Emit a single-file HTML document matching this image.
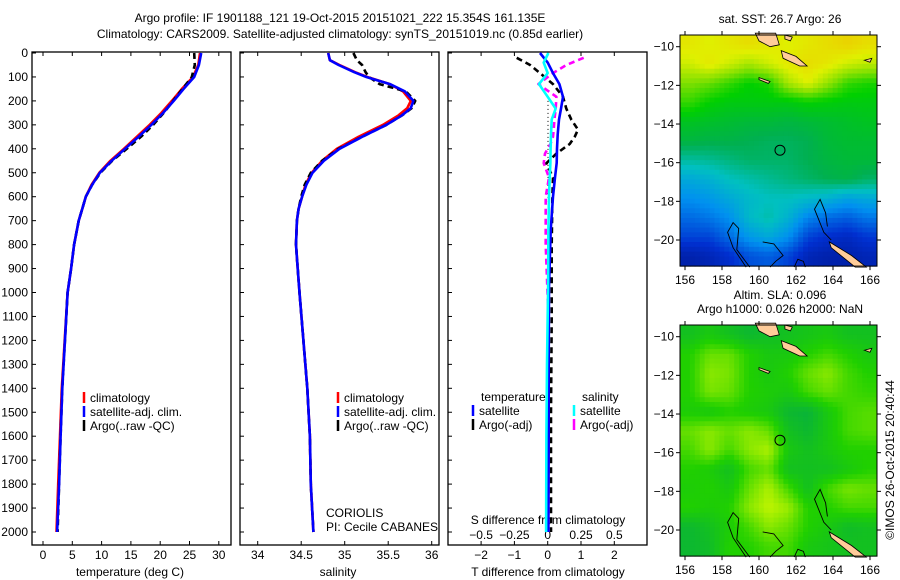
<!DOCTYPE html>
<html><head><meta charset="utf-8">
<style>
body{margin:0;background:#fff;}
svg{display:block;font-family:"Liberation Sans",Arial,sans-serif;}
text{font-size:12px;fill:#000;}
</style></head>
<body>
<svg id="chart" width="900" height="580" viewBox="0 0 900 580" xmlns="http://www.w3.org/2000/svg">
<rect width="900" height="580" fill="#fff"/>
<text x="340" y="22" text-anchor="middle">Argo profile: IF 1901188_121 19-Oct-2015 20151021_222 15.354S 161.135E</text>
<text x="340" y="38" text-anchor="middle">Climatology: CARS2009. Satellite-adjusted climatology: synTS_20151019.nc (0.85d earlier)</text>
<g id="g"></g>
</svg>
<script>
// ---------- data ----------
const depthT = [0,50,100,150,200,250,300,350,400,450,500,550,600,650,700,800,900,1000,1400,1600,1800,2000];
const tempClim = [26.8,26.5,25.6,23.7,22.0,20.2,18.2,16.0,13.8,11.5,9.6,8.3,7.3,6.7,6.1,5.3,4.8,4.2,3.2,2.9,2.6,2.3];
const tempSat  = [27.0,26.6,25.8,24.0,22.3,20.5,18.5,16.3,14.0,11.7,9.7,8.4,7.3,6.7,6.1,5.3,4.8,4.2,3.3,3.0,2.75,2.4];
const tempArgo = [25.8,25.9,25.4,23.8,22.2,20.6,18.8,16.7,14.3,11.8,9.8,8.4,7.3,6.7,6.1,5.3,4.8,4.2,3.3,3.0,2.75,2.5];
const depthS = [0,30,50,80,100,130,160,200,230,260,300,350,400,450,500,550,600,650,700,800,900,1000,1400,1600,1800,2000];
const salClim = [34.81,34.83,34.94,35.12,35.26,35.52,35.67,35.76,35.72,35.62,35.44,35.16,34.91,34.74,34.62,34.55,34.51,34.47,34.45,34.44,34.46,34.48,34.57,34.60,34.61,34.64];
const salSat  = [34.81,34.83,34.93,35.11,35.25,35.52,35.69,35.79,35.76,35.66,35.48,35.20,34.94,34.76,34.63,34.56,34.51,34.47,34.45,34.44,34.46,34.48,34.57,34.60,34.61,34.64];
const salArgo = [35.10,35.14,35.20,35.24,35.28,35.40,35.70,35.81,35.77,35.66,35.48,35.20,34.93,34.74,34.61,34.54,34.50,34.47,34.45,34.44,34.46,34.48,34.57,34.60,34.61,34.64];
const depthD = [0,40,84,130,183,232,278,340,400,459,520,600,740,977,1300,1600,2000];
const dTsat  = [-0.23,0.0,0.16,0.35,0.46,0.40,0.34,0.30,0.28,0.27,0.22,0.16,0.09,0.04,0.03,0.03,0.02];
const dSsat  = [0.005,-0.03,0.0,-0.065,0.0,0.06,0.03,0.025,0.022,0.02,0.015,0.01,0.005,0.003,-0.005,-0.01,-0.012];
const depthA = [20,50,84,130,183,232,278,320,350,380,420,460,520,600,800,1100,1500,2000];
const dTargo = [-0.93,-0.53,-0.23,0.16,0.46,0.56,0.71,0.91,0.81,0.66,0.26,-0.04,0.16,0.14,0.12,0.12,0.10,0.10];
const dSargo = [0.27,0.14,0.04,-0.07,0.065,0.06,0.05,0.045,0.04,0.02,-0.02,-0.03,0.01,-0.015,-0.015,0.005,0.005,0.005];
const depthTicks = [0,100,200,300,400,500,600,700,800,900,1000,1100,1200,1300,1400,1500,1600,1700,1800,1900,2000];
const tempTicks = [0,5,10,15,20,25,30];
const salTicks = [34,34.5,35,35.5,36];
const salTickLabels = ["34","34.5","35","35.5","36"];
const dTTicks = [-2,-1,0,1,2];
const dSTicks = [-0.5,-0.25,0,0.25,0.5];
const dSTickLabels = ["-0.5","-0.25","0","0.25","0.5"];
const lonTicks = [156,158,160,162,164,166];
const latTicks = [-10,-12,-14,-16,-18,-20];
// SST map grid (normalised 0..1), rows north->south, cols west->east
const sstGrid = [
[0.84,0.82,0.84,0.86,0.84,0.82,0.84,0.86,0.88,0.86],
[0.80,0.84,0.80,0.76,0.80,0.84,0.86,0.84,0.80,0.78],
[0.72,0.70,0.66,0.62,0.64,0.76,0.82,0.74,0.66,0.64],
[0.66,0.62,0.60,0.60,0.60,0.60,0.62,0.61,0.60,0.60],
[0.58,0.57,0.56,0.55,0.55,0.54,0.55,0.56,0.57,0.58],
[0.54,0.53,0.53,0.52,0.51,0.51,0.52,0.55,0.56,0.56],
[0.45,0.46,0.48,0.50,0.50,0.50,0.52,0.54,0.55,0.55],
[0.36,0.38,0.42,0.44,0.46,0.48,0.50,0.52,0.53,0.50],
[0.30,0.32,0.36,0.40,0.42,0.42,0.40,0.38,0.34,0.36],
[0.24,0.26,0.30,0.40,0.44,0.38,0.28,0.24,0.22,0.26],
[0.18,0.18,0.24,0.32,0.36,0.30,0.18,0.14,0.12,0.16],
[0.08,0.10,0.14,0.20,0.22,0.18,0.10,0.08,0.08,0.10]];
// SLA map grid (normalised 0..1)
const slaGrid = [
[0.30,0.40,0.30,0.20,0.25,0.30,0.35,0.40,0.30,0.30],
[0.50,0.70,0.70,0.50,0.40,0.40,0.50,0.60,0.50,0.40],
[0.50,0.80,0.75,0.50,0.40,0.50,0.70,0.80,0.60,0.50],
[0.50,0.75,0.70,0.50,0.45,0.40,0.60,0.70,0.60,0.55],
[0.45,0.40,0.50,0.45,0.40,0.20,0.15,0.40,0.60,0.65],
[0.70,0.80,0.70,0.80,0.70,0.30,0.20,0.40,0.60,0.65],
[0.60,0.80,0.60,0.80,0.90,0.40,0.30,0.40,0.50,0.50],
[0.50,0.45,0.30,0.60,0.70,0.30,0.30,0.30,0.40,0.50],
[0.45,0.50,0.40,0.70,0.90,0.60,0.30,0.60,0.75,0.70],
[0.50,0.45,0.50,0.80,0.95,0.85,0.50,0.50,0.60,0.60],
[0.20,0.30,0.45,0.60,0.80,0.70,0.50,0.40,0.25,0.30],
[0.20,0.25,0.50,0.50,0.60,0.60,0.40,0.35,0.30,0.30]];

// ---------- helpers ----------
const NS="http://www.w3.org/2000/svg";
const G=document.getElementById('g');
function el(tag,attrs,parent){const e=document.createElementNS(NS,tag);for(const k in attrs)e.setAttribute(k,attrs[k]);(parent||G).appendChild(e);return e;}
function txt(x,y,s,anchor,parent){const t=el('text',{x:x,y:y,'text-anchor':anchor||'start'},parent);t.textContent=s;return t;}
const yD=d=>53+d*0.2395;
const xT=t=>43+t*5.86;
const xS=s=>257.7+(s-34)*87;
const xDT=v=>547.7+v*33.3;
const xDS=v=>547.7+v*4*33.3;
const TOP=52,BOT=545;

function panel(x0,x1,name){
  const r=el('rect',{x:x0,y:TOP,width:x1-x0,height:BOT-TOP,fill:'none',stroke:'#000','stroke-width':1.3});
  
  
  depthTicks.forEach(d=>{el('line',{x1:x0,x2:x0+4,y1:yD(d),y2:yD(d),stroke:'#000'});});
}
function line(xs,ys,xf,stroke,dash,name){
  const pts=xs.map((v,i)=>xf(v).toFixed(1)+','+yD(ys[i]).toFixed(1)).join(' ');
  const p=el('polyline',{points:pts,fill:'none',stroke:stroke,'stroke-width':2.6,'stroke-dasharray':dash||'none','stroke-linejoin':'round'});
  
  
}
function legendEntry(x,y,color,label,name){
  const g=el('g',{});
  
  
  el('line',{x1:x,x2:x,y1:y-10,y2:y+1,stroke:color,'stroke-width':2.5},g);
  txt(x+6,y,label,'start',g);
}

// ---------- panel 1 temperature ----------
panel(32,231,'temperature-panel');
depthTicks.forEach(d=>{const t=txt(28,yD(d)+4,String(d),'end');});
tempTicks.forEach(v=>{el('line',{x1:xT(v),x2:xT(v),y1:TOP,y2:TOP+4,stroke:'#000'});el('line',{x1:xT(v),x2:xT(v),y1:BOT,y2:BOT-4,stroke:'#000'});txt(xT(v),559,String(v),'middle');});
txt(130,576,'temperature (deg C)','middle');
line(tempClim,depthT,xT,'#ff0000',null,'temp-climatology-line');
line(tempArgo,depthT,xT,'#000',"6,4",'temp-argo-line');
line(tempSat,depthT,xT,'#0000ff',null,'temp-satellite-line');
legendEntry(84,402,'#ff0000','climatology','temp-legend-climatology');
legendEntry(84,416,'#0000ff','satellite-adj. clim.','temp-legend-satellite');
legendEntry(84,430,'#000','Argo(..raw -QC)','temp-legend-argo');

// ---------- panel 2 salinity ----------
panel(240,439,'salinity-panel');
salTicks.forEach((v,i)=>{el('line',{x1:xS(v),x2:xS(v),y1:TOP,y2:TOP+4,stroke:'#000'});el('line',{x1:xS(v),x2:xS(v),y1:BOT,y2:BOT-4,stroke:'#000'});txt(xS(v),559,salTickLabels[i],'middle');});
txt(338,576,'salinity','middle');
line(salClim,depthS,xS,'#ff0000',null,'sal-climatology-line');
line(salArgo,depthS,xS,'#000',"6,4",'sal-argo-line');
line(salSat,depthS,xS,'#0000ff',null,'sal-satellite-line');
legendEntry(338,402,'#ff0000','climatology','sal-legend-climatology');
legendEntry(338,416,'#0000ff','satellite-adj. clim.','sal-legend-satellite');
legendEntry(338,430,'#000','Argo(..raw -QC)','sal-legend-argo');
txt(326,517,'CORIOLIS');
txt(326,531,'PI: Cecile CABANES');

// ---------- panel 3 differences ----------
panel(448,647,'difference-panel');
dTTicks.forEach(v=>{el('line',{x1:xDT(v),x2:xDT(v),y1:TOP,y2:TOP+4,stroke:'#000'});el('line',{x1:xDT(v),x2:xDT(v),y1:BOT,y2:BOT-4,stroke:'#000'});txt(xDT(v),559,String(v).replace('-','\u2212'),'middle');});
dSTicks.forEach((v,i)=>{txt(xDS(v),539,dSTickLabels[i].replace('-','\u2212'),'middle');});
txt(548,524,'S difference from climatology','middle');
txt(548,576,'T difference from climatology','middle');
el('line',{x1:548,x2:548,y1:yD(200),y2:yD(620),stroke:'#000','stroke-dasharray':'1,3'});
line(dTargo,depthA,xDT,'#000',"6,4",'tdiff-argo-line');
line(dSargo,depthA,xDS,'#ff00ff',"6,4",'sdiff-argo-line');
line(dTsat,depthD,xDT,'#0000ff',null,'tdiff-satellite-line');
line(dSsat,depthD,xDS,'#00ffff',null,'sdiff-satellite-line');
txt(481,401,'temperature');
txt(582,401,'salinity');
legendEntry(473,415,'#0000ff','satellite','tdiff-legend-satellite');
legendEntry(473,429,'#000','Argo(-adj)','tdiff-legend-argo');
legendEntry(574,415,'#00ffff','satellite','sdiff-legend-satellite');
legendEntry(574,429,'#ff00ff','Argo(-adj)','sdiff-legend-argo');

// ---------- maps ----------
function lerpColor(stops,v){
  v=Math.max(0,Math.min(1,v));
  for(let i=1;i<stops.length;i++){if(v<=stops[i][0]){const a=stops[i-1],b=stops[i];const f=(v-a[0])/(b[0]-a[0]);
    const c=[0,1,2].map(k=>Math.round(a[1][k]+(b[1][k]-a[1][k])*f));return 'rgb('+c.join(',')+')';}}
  const l=stops[stops.length-1][1];return 'rgb('+l.join(',')+')';
}
function sample(grid,fr,fc){
  const R=grid.length,C=grid[0].length;
  fr=Math.max(0,Math.min(R-1,fr));fc=Math.max(0,Math.min(C-1,fc));
  const r0=Math.floor(fr),c0=Math.floor(fc),r1=Math.min(R-1,r0+1),c1=Math.min(C-1,c0+1);
  const a=fr-r0,b=fc-c0;
  return grid[r0][c0]*(1-a)*(1-b)+grid[r0][c1]*(1-a)*b+grid[r1][c0]*a*(1-b)+grid[r1][c1]*a*b;
}
const sstStops=[[0,[0,16,128]],[0.15,[0,48,208]],[0.3,[0,144,240]],[0.42,[0,192,192]],[0.52,[0,176,80]],[0.62,[0,208,0]],[0.72,[128,224,0]],[0.82,[224,240,0]],[0.92,[240,192,0]],[1,[240,128,0]]];
const slaStops=[[0,[0,168,80]],[0.5,[32,208,0]],[1,[208,248,0]]];
function drawMap(top,latBot,grid,stops,name,titleLines){
  const L=680,R=877;
  const pxLat=19.33,lat0y=top+11.7;
  const X=lon=>685+(lon-156)*18.5;
  const Y=lat=>lat0y+(-10-lat)*pxLat;
  const B=Y(latBot);
  const g=el('g',{});
  
  
  const rows=grid.length,cols=grid[0].length,sub=4;
  const cw=(R-L)/(cols*sub),ch=(B-top)/(rows*sub);
  for(let r=0;r<rows*sub;r++)for(let c=0;c<cols*sub;c++){
    const v=sample(grid,(r+0.5)/sub-0.5,(c+0.5)/sub-0.5);
    const cell=el('rect',{x:L+c*cw,y:top+r*ch,width:cw+0.5,height:ch+0.5,fill:lerpColor(stops,v)},g);
    
    
  }
  const land='#ffcc99';
  const poly=(pts)=>pts.map(p=>X(p[0]).toFixed(1)+','+Y(p[1]).toFixed(1)).join(' ');
  el('polygon',{points:poly([[159.8,-9.3],[160.9,-9.3],[161.1,-9.9],[160.6,-10.0],[160.0,-9.7]]),fill:land,stroke:'#000','stroke-width':0.8},g);
  el('polygon',{points:poly([[161.2,-10.2],[162.0,-10.5],[162.6,-11.0],[162.2,-11.0],[161.3,-10.6]]),fill:land,stroke:'#000','stroke-width':0.8},g);
  el('polygon',{points:poly([[161.4,-9.4],[161.8,-9.5],[161.7,-9.7],[161.4,-9.6]]),fill:land,stroke:'#000','stroke-width':0.8},g);
  el('polygon',{points:poly([[160.0,-11.6],[160.6,-11.8],[160.5,-11.9],[160.0,-11.7]]),fill:land,stroke:'#000','stroke-width':0.8},g);
  el('polygon',{points:poly([[163.8,-20.1],[165.0,-20.8],[165.8,-21.4],[165.2,-21.4],[163.9,-20.4]]),fill:land,stroke:'#000','stroke-width':0.8},g);
  el('polygon',{points:poly([[165.7,-10.7],[166.1,-10.6],[166.0,-10.8]]),fill:land,stroke:'#000','stroke-width':0.8},g);
  el('polyline',{points:poly([[159.3,-21.4],[158.6,-20.4],[158.3,-19.6],[158.6,-19.1],[158.9,-19.4],[158.8,-20.5],[159.5,-21.4]]),fill:'none',stroke:'#000','stroke-width':0.9},g);
  el('polyline',{points:poly([[160.2,-20.1],[160.8,-20.2],[161.3,-20.8],[160.9,-21.1],[160.6,-21.4]]),fill:'none',stroke:'#000','stroke-width':0.9},g);
  el('polyline',{points:poly([[163.9,-20.0],[163.5,-19.6],[163.0,-18.4],[163.3,-17.9],[163.6,-18.6],[163.7,-19.3]]),fill:'none',stroke:'#000','stroke-width':0.9},g);
  el('polyline',{points:poly([[161.9,-21.4],[162.1,-21.0],[162.4,-21.1],[162.5,-21.4]]),fill:'none',stroke:'#000','stroke-width':0.9},g);
  el('circle',{cx:X(161.135),cy:Y(-15.354),r:5,fill:'none',stroke:'#000','stroke-width':1},g);
  el('rect',{x:L,y:top,width:R-L,height:B-top,fill:'none',stroke:'#000','stroke-width':1},g);
  lonTicks.forEach(v=>{el('line',{x1:X(v),x2:X(v),y1:B,y2:B+4,stroke:'#000'},g);el('line',{x1:X(v),x2:X(v),y1:top,y2:top-4,stroke:'#000'},g);txt(X(v),B+18,String(v),'middle',g);});
  latTicks.forEach(v=>{el('line',{x1:L,x2:L-4,y1:Y(v),y2:Y(v),stroke:'#000'},g);el('line',{x1:R,x2:R+4,y1:Y(v),y2:Y(v),stroke:'#000'},g);txt(L-6,Y(v)+4,String(v).replace('-','\u2212'),'end',g);});
  titleLines.forEach((s,i)=>{txt(780,top-26+i*14+(titleLines.length==1?14:0),s,'middle',g);});
  return g;
}
drawMap(35,-21.35,sstGrid,sstStops,'sst-map',['sat. SST: 26.7 Argo: 26']);
drawMap(325,-21.35,slaGrid,slaStops,'sla-map',['Altim. SLA: 0.096','Argo h1000: 0.026 h2000: NaN']);
const cr=txt(0,0,'\u00A9IMOS 26-Oct-2015 20:40:44','middle');
cr.setAttribute('transform','translate(894,460) rotate(-90)');


</script>
</body></html>
